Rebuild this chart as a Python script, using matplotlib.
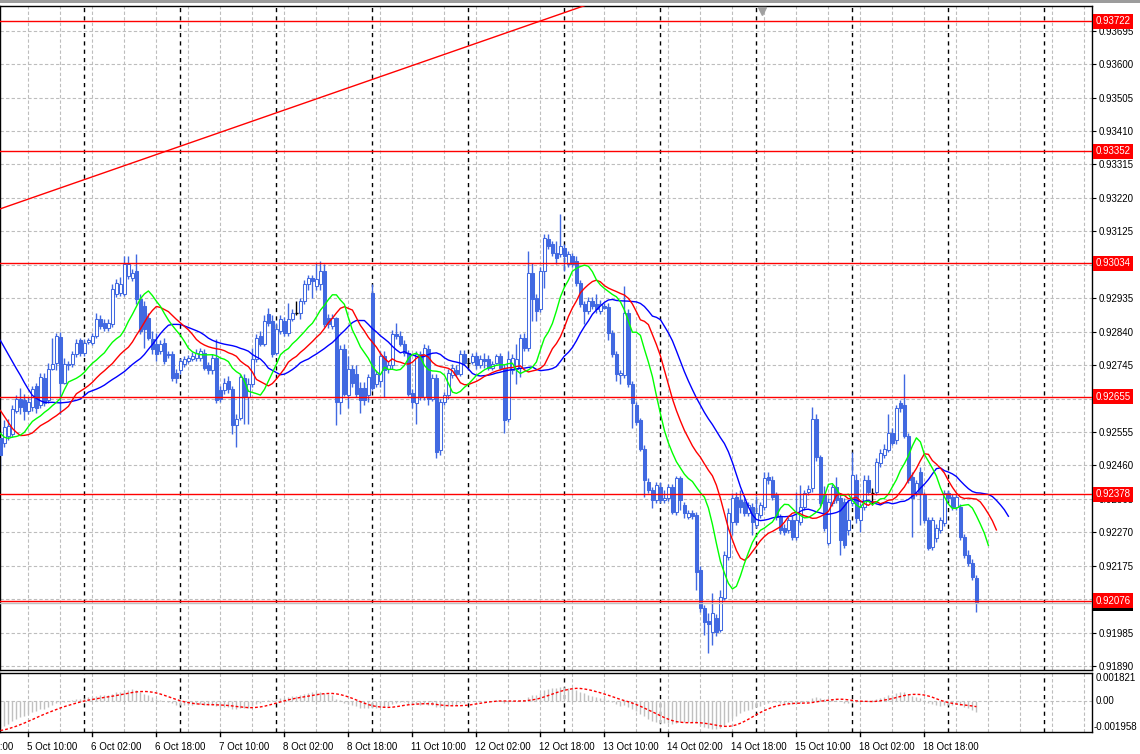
import numpy as np
import matplotlib
matplotlib.use("Agg")
import matplotlib.pyplot as plt
from matplotlib.transforms import blended_transform_factory as btf

plt.rcParams['font.family'] = ['Liberation Sans', 'DejaVu Sans']

# ---------------- data: hourly OHLC, prices in 1e-5 units (92539 -> 0.92539) ----------------
open_pts = [92539,92525,92545,92550,92616,92650,92645,92616,92625,92687,92631,92707,92645,92735,92752,92826,92695,92749,92749,92777,
            92815,92780,92812,92809,92829,92877,92865,92851,92862,92948,92951,92948,92999,92993,93013,92933,92914,92880,92820,92806,
            92786,92809,92777,92777,92724,92730,92749,92758,92763,92766,92766,92780,92744,92730,92766,92673,92673,92701,92678,92574,
            92596,92707,92653,92692,92763,92829,92806,92890,92870,92780,92843,92871,92837,92877,92894,92894,92928,92976,92993,92970,
            92975,93013,92880,92857,92880,92639,92792,92659,92735,92720,92680,92680,92660,92951,92692,92700,92772,92735,92744,92834,
            92829,92806,92780,92667,92636,92777,92653,92792,92650,92707,92503,92639,92659,92716,92732,92721,92777,92752,92755,92772,
            92746,92763,92763,92738,92752,92772,92738,92593,92730,92735,92738,92823,92795,93007,92936,92905,93013,93104,93090,93064,
            93061,93079,93033,93056,93042,92979,92919,92900,92928,92919,92900,92914,92911,92837,92777,92716,92716,92894,92692,92631,
            92588,92508,92412,92389,92361,92398,92361,92367,92398,92327,92424,92347,92313,92324,92318,92163,92055,92018,91986,92026,
            91992,92083,92199,92298,92369,92361,92355,92324,92341,92290,92318,92341,92427,92418,92375,92313,92281,92276,92304,92256,
            92298,92341,92384,92395,92593,92483,92375,92239,92352,92398,92367,92355,92276,92352,92418,92304,92341,92418,92381,92384,
            92466,92489,92503,92553,92531,92636,92631,92545,92426,92381,92441,92375,92304,92228,92253,92276,92296,92381,92369,92341,
            92341,92256,92205,92182,92140]
high_pts = [92559,92588,92593,92631,92659,92681,92664,92653,92687,92695,92724,92724,92752,92823,92837,92840,92766,92758,92786,92820,
            92823,92818,92823,92837,92894,92886,92877,92877,92976,92990,92996,93056,93056,93018,93061,92946,92928,92894,92843,92837,
            92815,92823,92786,92786,92735,92766,92772,92775,92783,92792,92795,92792,92755,92777,92820,92687,92707,92713,92687,92605,
            92721,92721,92707,92795,92834,92843,92886,92908,92886,92865,92886,92883,92922,92905,92928,92936,92987,93001,93001,93036,
            93042,93033,92891,92891,92883,92801,92804,92772,92746,92744,92698,92698,92721,92976,92732,92786,92786,92758,92846,92865,
            92843,92815,92789,92678,92786,92786,92804,92801,92719,92719,92650,92670,92735,92749,92744,92789,92789,92766,92780,92783,
            92775,92780,92775,92758,92777,92780,92749,92786,92777,92806,92834,92837,93070,93036,92946,93024,93118,93118,93098,93098,
            93175,93090,93070,93064,93056,92987,92928,92939,92939,92948,92931,92922,92922,92846,92786,92732,92971,92905,92701,92639,
            92596,92517,92424,92398,92412,92412,92389,92407,92407,92429,92429,92355,92333,92333,92327,92174,92063,92041,92097,92038,
            92106,92216,92338,92381,92384,92389,92367,92355,92352,92372,92355,92441,92441,92429,92386,92321,92293,92313,92316,92384,
            92404,92389,92404,92625,92605,92491,92401,92367,92407,92427,92375,92367,92361,92497,92435,92352,92432,92432,92395,92480,
            92508,92520,92607,92565,92633,92645,92721,92553,92441,92418,92455,92384,92313,92313,92293,92313,92389,92389,92378,92378,
            92350,92265,92219,92194,92148]
low_pts = [92446,92511,92531,92542,92610,92607,92588,92607,92616,92610,92622,92628,92636,92730,92730,92607,92692,92730,92741,92769,
           92772,92772,92804,92801,92823,92848,92843,92843,92854,92939,92942,92942,92990,92985,92919,92834,92795,92815,92777,92758,
           92777,92749,92766,92701,92695,92719,92741,92752,92758,92758,92758,92730,92721,92719,92636,92639,92664,92667,92550,92511,
           92588,92579,92579,92684,92755,92798,92798,92857,92769,92775,92834,92829,92829,92871,92886,92877,92919,92957,92937,92957,
           92957,92854,92851,92848,92574,92607,92656,92622,92684,92653,92610,92633,92640,92673,92684,92684,92653,92724,92735,92820,
           92798,92772,92656,92622,92579,92645,92645,92631,92642,92480,92489,92631,92650,92707,92713,92713,92744,92741,92749,92735,
           92738,92738,92730,92730,92749,92730,92553,92582,92721,92692,92710,92786,92786,92871,92871,92897,92965,93076,93056,93033,
           93053,93013,93024,93024,92971,92911,92862,92891,92905,92894,92891,92903,92815,92769,92701,92692,92707,92684,92565,92574,
           92500,92369,92381,92339,92352,92352,92352,92358,92321,92318,92333,92310,92307,92307,92106,92043,91978,91927,91949,91975,
           91986,92077,92191,92262,92290,92324,92315,92315,92262,92281,92310,92333,92407,92361,92304,92265,92262,92267,92248,92248,
           92290,92333,92375,92384,92474,92344,92273,92233,92344,92352,92205,92225,92262,92344,92296,92270,92333,92375,92347,92375,
           92457,92480,92497,92517,92522,92613,92537,92409,92256,92372,92290,92296,92219,92219,92242,92267,92287,92358,92333,92333,
           92248,92197,92174,92134,92043]
close_pts = [92489,92568,92571,92620,92650,92625,92616,92639,92678,92622,92710,92636,92735,92749,92829,92695,92749,92744,92777,92809,
             92780,92809,92815,92829,92877,92857,92851,92865,92962,92979,92976,93033,93033,93007,92933,92843,92848,92823,92792,92777,
             92806,92758,92775,92707,92707,92758,92763,92766,92772,92780,92786,92738,92730,92766,92645,92650,92695,92678,92574,92593,
             92710,92653,92692,92763,92823,92806,92871,92865,92777,92848,92877,92837,92877,92894,92894,92928,92976,92993,92985,92990,
             93013,92862,92862,92880,92639,92792,92664,92735,92695,92664,92645,92645,92710,92681,92721,92772,92730,92744,92834,92829,
             92806,92780,92664,92639,92777,92653,92795,92650,92707,92497,92639,92659,92724,92738,92721,92777,92752,92752,92772,92744,
             92763,92758,92738,92749,92772,92738,92588,92763,92766,92763,92823,92795,93007,92933,92900,93013,93107,93084,93064,93050,
             93084,93056,93061,93033,92979,92919,92900,92928,92914,92905,92919,92908,92837,92777,92721,92724,92894,92692,92636,92582,
             92508,92418,92389,92361,92404,92361,92367,92398,92327,92424,92361,92324,92324,92316,92157,92055,92015,92009,92041,91986,
             92086,92205,92324,92367,92298,92341,92324,92347,92298,92324,92347,92424,92418,92369,92313,92276,92270,92304,92256,92304,
             92341,92381,92392,92593,92483,92352,92281,92355,92398,92361,92248,92233,92304,92432,92310,92341,92418,92384,92381,92469,
             92494,92508,92553,92525,92622,92622,92545,92418,92367,92409,92381,92304,92225,92304,92281,92304,92381,92367,92341,92369,
             92256,92205,92182,92143,92069]

# Alligator (SMMA of median price) values shown before the first computed point, and SMMA seeds
jaw_pre = [92815, 92795, 92775, 92755, 92735, 92716, 92695, 92676]
teeth_pre = [92616, 92599, 92582, 92565, 92554]
lips_pre = [92551, 92540, 92537]
jaw_seed, teeth_seed, lips_seed = 92672, 92551, 92550

# MACD(12,26,9) seeds
ema12_seed, ema26_seed = 0.92570, 0.92745
macd_pre = [-0.0020, -0.0020, -0.0020, -0.0019, -0.0019, -0.0018, -0.0018, -0.0017]

price_ticks = [0.93695, 0.93600, 0.93505, 0.93410, 0.93315, 0.93220, 0.93125, 0.93030, 0.92935, 0.92840,
               0.92745, 0.92650, 0.92555, 0.92460, 0.92365, 0.92270, 0.92175, 0.92080, 0.91985, 0.91890]
hidden_ticks = [0.93030, 0.92650, 0.92080]   # covered by level-price boxes
level_lines = [0.93722, 0.93352, 0.93034, 0.92655, 0.92378, 0.92076]
current_price = 0.92068
trend_bars = [0, 144]
trend_prices = [0.93189, 0.93758]

time_label_bars = [-9, 7, 23, 39, 55, 71, 87, 103, 119, 135, 151, 167, 183, 199, 215, 231]
time_labels = ["4 Oct 18:00", "5 Oct 10:00", "6 Oct 02:00", "6 Oct 18:00", "7 Oct 10:00", "8 Oct 02:00",
               "8 Oct 18:00", "11 Oct 10:00", "12 Oct 02:00", "12 Oct 18:00", "13 Oct 10:00", "14 Oct 02:00",
               "14 Oct 18:00", "15 Oct 10:00", "18 Oct 02:00", "18 Oct 18:00"]
separator_bars = [21, 45, 69, 93, 117, 141, 165, 189, 213, 237, 261]
osc_max, osc_min = 0.001821, -0.001958

# ---------------- computations ----------------
o = np.array(open_pts) / 1e5
h = np.array(high_pts) / 1e5
l = np.array(low_pts) / 1e5
c = np.array(close_pts) / 1e5
N = len(c)
x = np.arange(N)
med = (h + l) / 2


def smma(vals, n, seed):
    out, prev = [], seed
    for v in vals:
        prev = (prev * (n - 1) + v) / n
        out.append(prev)
    return np.array(out)


def ema(vals, n, seed):
    a = 2.0 / (n + 1)
    out, prev = [], seed
    for v in vals:
        prev = prev + a * (v - prev)
        out.append(prev)
    return np.array(out)


jaw = np.concatenate([np.array(jaw_pre) / 1e5, smma(med, 13, jaw_seed / 1e5)])
teeth = np.concatenate([np.array(teeth_pre) / 1e5, smma(med, 8, teeth_seed / 1e5)])
lips = np.concatenate([np.array(lips_pre) / 1e5, smma(med, 5, lips_seed / 1e5)])

macd = ema(c, 12, ema12_seed) - ema(c, 26, ema26_seed)
full = np.concatenate([macd_pre, macd])
signal = np.array([full[k:k + 9].mean() for k in range(N)])

# ---------------- figure ----------------
W, H = 1140, 754
FS = 7
fig = plt.figure(figsize=(W / 100, H / 100), dpi=100)
fig.patch.set_facecolor("white")
fig.add_artist(plt.Rectangle((0, 1 - 3 / H), 1, 3 / H, transform=fig.transFigure, color="#9c9c9c", lw=0))

ax = fig.add_axes([0, 1 - 670 / H, 1092 / W, 664 / H])
ax2 = fig.add_axes([0, 1 - 732 / H, 1092 / W, 59 / H])
XL = (-0.1, 272.9)
for a in (ax, ax2):
    a.set_xlim(*XL)
    for s in a.spines.values():
        s.set_color("black")
        s.set_linewidth(1)
    a.set_xticks([])

BLUE = "#4169E1"
GRID = "#BDBDBD"
dash = (0, (3, 2))
ax.set_ylim(0.91879, 0.93765)
ax2.set_ylim(osc_min, osc_max)

# grids
for a in (ax, ax2):
    for gb in np.arange(7, 273, 8):
        a.axvline(gb, color=GRID, lw=0.8, ls=dash, zorder=0)
    for sb in separator_bars:
        a.axvline(sb, color="black", lw=1, ls=(0, (3, 3)), zorder=0.5)
for pt in price_ticks:
    ax.axhline(pt, color=GRID, lw=0.8, ls=dash, zorder=0)
ax2.axhline(0, color=GRID, lw=0.8, ls=dash, zorder=0)

# candles
doji = np.isclose(o, c)
up = c > o
colors = np.where(doji, "black", BLUE)
ax.vlines(x, l, h, colors=colors, lw=1, zorder=2)
bottom = np.minimum(o, c)
height = np.abs(c - o)
face = np.where(up, "white", BLUE)
nd = ~doji
ax.bar(x[nd], height[nd], bottom=bottom[nd], width=0.62, color=face[nd], edgecolor=BLUE, lw=0.75, zorder=3)
ax.hlines(o[doji], x[doji] - 0.4, x[doji] + 0.4, colors="black", lw=1, zorder=3)

# alligator
ax.plot(np.arange(len(jaw)), jaw, color="#0000FF", lw=1, zorder=4)
ax.plot(np.arange(len(teeth)), teeth, color="#FF0000", lw=1, zorder=4)
ax.plot(np.arange(len(lips)), lips, color="#00FF00", lw=1, zorder=4)

# level lines and trend line
for lv in level_lines:
    ax.axhline(lv, color="#FF0000", lw=1, zorder=5)
ax.axhline(current_price, color="#C0C0C0", lw=1, zorder=4.5)
tb = np.array(trend_bars, dtype=float)
tp = np.array(trend_prices)
slope = (tp[1] - tp[0]) / (tb[1] - tb[0])
tx = np.array([XL[0], tb[1] + 5])
ax.plot(tx, tp[0] + slope * (tx - tb[0]), color="#FF0000", lw=1, zorder=5)

# shift marker
ax.plot([190.5], [0.93752], marker="v", color="#A0A0A0", ms=6, zorder=6, clip_on=False)

# price axis
ax.yaxis.tick_right()
ax.set_yticks(price_ticks)
ax.set_yticklabels(["" if any(abs(p - hp) < 1e-9 for hp in hidden_ticks) else f"{p:.5f}" for p in price_ticks])
ax.tick_params(axis="y", direction="out", length=3, pad=2, labelsize=FS, colors="black")

bt = btf(ax.transAxes, ax.transData)
ax.text(1.003, current_price, "0.92068", transform=bt, ha="left", va="center", fontsize=FS, color="white",
        bbox=dict(boxstyle="square,pad=0.25", fc="black", ec="none"), zorder=9, clip_on=False)
for lv in level_lines:
    ax.text(1.003, lv, f"{lv:.5f}", transform=bt, ha="left", va="center", fontsize=FS, color="white",
            bbox=dict(boxstyle="square,pad=0.25", fc="#FF0000", ec="none"), zorder=10, clip_on=False)

# oscillator
ax2.vlines(x, 0, macd, colors="#C0C0C0", lw=1, zorder=2)
ax2.plot(x, signal, color="#FF0000", lw=1, ls=(0, (2, 1.5)), zorder=3)
ax2.set_yticks([])
bt2 = btf(ax2.transAxes, ax2.transData)
ax2.text(1.003, osc_max, f"{osc_max:.6f}", transform=bt2, ha="left", va="top", fontsize=FS, clip_on=False)
ax2.text(1.003, 0, "0.00", transform=bt2, ha="left", va="center", fontsize=FS, clip_on=False)
ax2.text(1.001, osc_min, f"{osc_min:.6f}", transform=bt2, ha="left", va="bottom", fontsize=FS, clip_on=False)

# time labels
bx = btf(ax2.transData, ax2.transAxes)
for b, t in zip(time_label_bars, time_labels):
    ax2.plot([b, b], [0, -0.06], color="black", lw=1, transform=bx, clip_on=False)
    ax2.text(b - 0.3, -0.17, t, transform=bx, ha="left", va="top", fontsize=FS, clip_on=False)

fig.savefig("out.png", dpi=100)
